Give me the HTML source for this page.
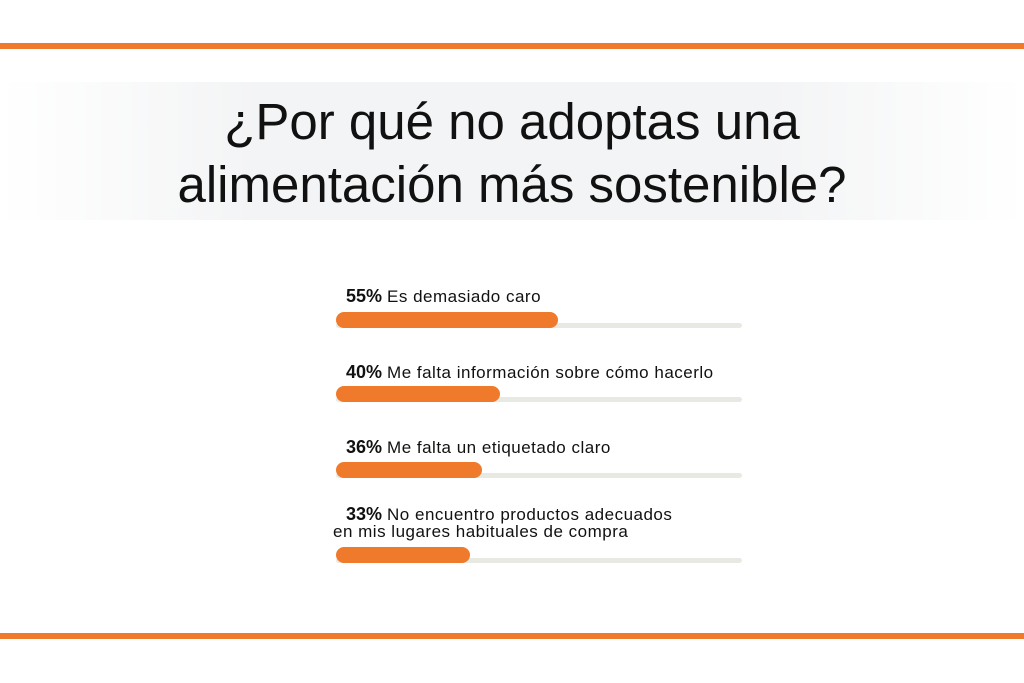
<!DOCTYPE html>
<html><head><meta charset="utf-8"><style>
body{margin:0;width:1024px;height:683px;background:#fff;position:relative;overflow:hidden;font-family:"Liberation Sans",sans-serif;color:#111}
.line{position:absolute;left:0;width:1024px;height:6px;background:#ef7a2c}
.band{position:absolute;left:0;top:82px;width:1024px;height:138px;background:linear-gradient(90deg,#fff 0%,#f3f4f5 25%,#f3f4f5 75%,#fff 100%)}
.title{position:absolute;left:0;top:90px;width:1024px;text-align:center;font-size:51px;line-height:63px;color:#111}
.lab{position:absolute;left:346px;font-size:17px;line-height:17px;letter-spacing:0.5px}
.lab b{font-size:18px;margin-right:5px;letter-spacing:0}
.track{position:absolute;left:336px;width:406px;height:5px;background:#e9e9e4;border-radius:3px}
.bar{position:absolute;left:336px;height:16px;background:#ef7a2c;border-radius:8px}
</style></head><body>
<div class="line" style="top:43px"></div>
<div class="band"></div>
<div class="title">¿Por qué no adoptas una<br>alimentación más sostenible?</div>
<div class="lab" style="top:288px"><b>55%</b>Es demasiado caro</div>
<div class="track" style="top:323px"></div><div class="bar" style="top:312px;width:222px"></div>
<div class="lab" style="top:364px"><b>40%</b>Me falta información sobre cómo hacerlo</div>
<div class="track" style="top:397px"></div><div class="bar" style="top:386px;width:164px"></div>
<div class="lab" style="top:439px"><b>36%</b>Me falta un etiquetado claro</div>
<div class="track" style="top:473px"></div><div class="bar" style="top:462px;width:146px"></div>
<div class="lab" style="top:506px"><b>33%</b>No encuentro productos adecuados<br><span style="margin-left:-13px">en mis lugares habituales de compra</span></div>
<div class="track" style="top:558px"></div><div class="bar" style="top:547px;width:134px"></div>
<div class="line" style="top:633px"></div>
</body></html>
